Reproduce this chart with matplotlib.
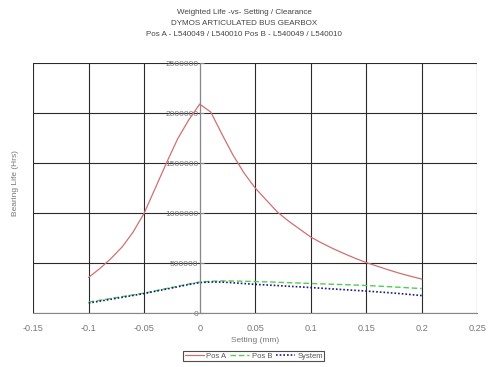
import numpy as np
import matplotlib.pyplot as plt

# setting / clearance (mm)
setting = [-0.10, -0.09, -0.08, -0.07, -0.06, -0.05, -0.04, -0.03, -0.02, -0.01,
           0.00, 0.01, 0.02, 0.03, 0.04, 0.05, 0.06, 0.07, 0.08, 0.09,
           0.10, 0.11, 0.12, 0.13, 0.14, 0.15, 0.16, 0.17, 0.18, 0.19, 0.20]

pos_a = [357000, 445000, 545000, 660000, 810000, 1000000, 1250000, 1500000, 1740000, 1930000,
         2090000, 2010000, 1790000, 1580000, 1400000, 1250000, 1130000, 1010000, 920000, 840000,
         760000, 700000, 645000, 595000, 548000, 505000, 468000, 432000, 398000, 368000, 340000]

pos_b = [110000, 128000, 146000, 164000, 182000, 200000, 222000, 245000, 268000, 290000,
         310000, 318000, 322000, 321000, 318000, 315000, 312000, 308000, 304000, 300000,
         296000, 292000, 288000, 284000, 280000, 276000, 270000, 264000, 258000, 251000, 245000]

system = [100000, 119000, 138000, 157000, 176000, 195000, 218000, 240000, 262000, 285000,
          305000, 310000, 310000, 303000, 295000, 287000, 281000, 275000, 268000, 262000,
          255000, 248000, 241000, 234000, 227000, 220000, 212000, 204000, 195000, 185000, 175000]

xticks = [-0.15, -0.1, -0.05, 0, 0.05, 0.1, 0.15, 0.2, 0.25]
yticks = [0, 500000, 1000000, 1500000, 2000000, 2500000]

plt.rcParams['font.family'] = ['Liberation Sans', 'DejaVu Sans']

fig = plt.figure(figsize=(4.88, 3.67), dpi=100)
ax = fig.add_axes([0.068, 0.147, 0.91, 0.681])

ax.plot(setting, pos_a, color='#d07070', lw=0.9, label='Pos A')
ax.plot(setting, pos_b, color='#55cc55', lw=1.0, ls=(0, (4, 2)), label='Pos B')
ax.plot(setting, system, color='#1a1a80', lw=1.2, ls=(0, (1, 1.2)), label='System')

ax.set_xlim(-0.15, 0.25)
ax.set_ylim(0, 2500000)
ax.set_xticks(xticks)
ax.set_xticklabels(['-0.15', '-0.1', '-0.05', '0', '0.05', '0.1', '0.15', '0.2', '0.25'])
ax.set_yticks(yticks)
ax.set_yticklabels([str(v) for v in yticks])

ax.grid(True, color='#2a2a2a', lw=0.8)
ax.spines['left'].set_position(('data', 0))
for s in ax.spines.values():
    s.set_color('#888888')
    s.set_linewidth(0.8)
ax.spines['top'].set_visible(False)
ax.spines['right'].set_visible(False)

ax.tick_params(axis='y', direction='in', length=3, pad=1, labelsize=6, labelcolor='#777777', color='#888888')
ax.tick_params(axis='x', length=0, pad=8, labelsize=6.6, labelcolor='#777777')

ax.set_xlabel('Setting (mm)', fontsize=6, color='#777777', labelpad=3)
fig.text(0.032, 0.5, 'Bearing Life (Hrs)', rotation=90, fontsize=6, color='#777777',
         ha='center', va='center')

fig.text(0.5, 0.967, 'Weighted Life -vs- Setting / Clearance', fontsize=5.8, color='#444444', ha='center', va='center')
fig.text(0.5, 0.936, 'DYMOS ARTICULATED BUS GEARBOX', fontsize=5.8, color='#444444', ha='center', va='center')
fig.text(0.5, 0.905, 'Pos A - L540049 / L540010 Pos B - L540049 / L540010', fontsize=5.8, color='#444444',
         ha='center', va='center')

leg = fig.legend(loc='center', bbox_to_anchor=(0.52, 0.03), ncol=3, fontsize=5.5, frameon=True,
                 fancybox=False, edgecolor='#222222', handlelength=2.5, handletextpad=0.3,
                 columnspacing=0.5, borderpad=0.2, borderaxespad=0)
leg.get_frame().set_linewidth(0.8)
for t in leg.get_texts():
    t.set_color('#555555')

fig.savefig('out.png', dpi=100)
